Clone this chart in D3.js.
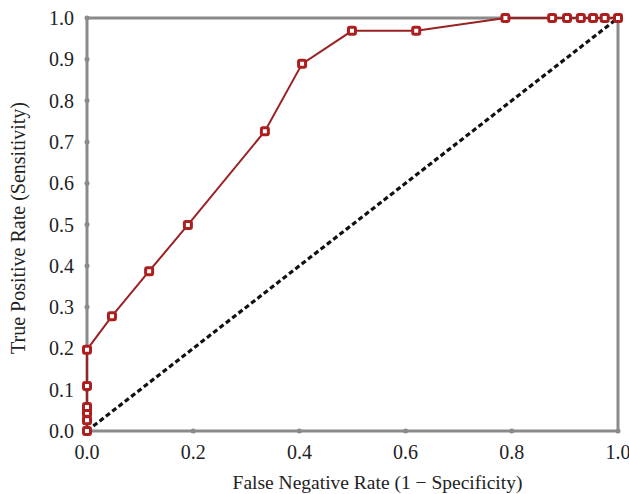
<!DOCTYPE html>
<html>
<head>
<meta charset="utf-8">
<script src="https://cdn.jsdelivr.net/npm/d3@7"></script>
<style>
  body { margin: 0; background: #fff; }
  text { font-family: "Liberation Serif", "DejaVu Serif", serif; fill: #222; }
</style>
</head>
<body>
<svg width="629" height="494"></svg>
<script>
// --- Data ---
const fpr = [0, 0, 0, 0, 0, 0, 0.047, 0.117, 0.19, 0.335, 0.405, 0.499, 0.62, 0.788, 0.876, 0.904, 0.93, 0.953, 0.975, 1.0];
const tpr = [0, 0.026, 0.044, 0.058, 0.109, 0.197, 0.278, 0.387, 0.499, 0.726, 0.889, 0.969, 0.969, 1.0, 1.0, 1.0, 1.0, 1.0, 1.0, 1.0];
const ticks = [0, 0.1, 0.2, 0.3, 0.4, 0.5, 0.6, 0.7, 0.8, 0.9, 1.0];
const xTicks = [0, 0.2, 0.4, 0.6, 0.8, 1.0];

const svg = d3.select('svg');
const x = d3.scaleLinear().domain([0, 1]).range([87, 618]);
const y = d3.scaleLinear().domain([0, 1]).range([431, 18]);
const gray = '#8a8a8a';

// --- Frame ---
svg.append('rect')
  .attr('x', x(0)).attr('y', y(1))
  .attr('width', x(1) - x(0)).attr('height', y(0) - y(1))
  .attr('fill', 'none').attr('stroke', gray).attr('stroke-width', 3);

// --- Tick dots ---
svg.selectAll('.ytd').data(ticks).join('circle')
  .attr('cx', x(0)).attr('cy', d => y(d)).attr('r', 2.5).attr('fill', gray);
svg.selectAll('.xtd').data(xTicks).join('circle')
  .attr('cx', d => x(d)).attr('cy', y(0)).attr('r', 2.5).attr('fill', gray);

// --- Tick labels ---
svg.selectAll('.yt').data(ticks).join('text')
  .attr('x', 74).attr('y', d => y(d) + 7)
  .attr('text-anchor', 'end').attr('font-size', 20)
  .text(d => d.toFixed(1));
svg.selectAll('.xt').data(xTicks).join('text')
  .attr('x', d => x(d)).attr('y', 459)
  .attr('text-anchor', 'middle').attr('font-size', 20)
  .text(d => d.toFixed(1));

// --- Axis titles ---
svg.append('text')
  .attr('x', (x(0) + x(1)) / 2 + 25).attr('y', 489)
  .attr('text-anchor', 'middle').attr('font-size', 19.5)
  .text('False Negative Rate (1 \u2212 Specificity)');
svg.append('text')
  .attr('transform', `translate(25, 228) rotate(-90)`)
  .attr('text-anchor', 'middle').attr('font-size', 20)
  .text('True Positive Rate (Sensitivity)');

// --- Diagonal ---
svg.append('line')
  .attr('x1', x(0)).attr('y1', y(0)).attr('x2', x(1)).attr('y2', y(1))
  .attr('stroke', '#111').attr('stroke-width', 3.2)
  .attr('stroke-dasharray', '5,3');

// --- ROC curve ---
const pts = fpr.map((d, i) => [d, tpr[i]]);
svg.append('path')
  .datum(pts)
  .attr('d', d3.line().x(d => x(d[0])).y(d => y(d[1])))
  .attr('fill', 'none').attr('stroke', '#9a2224').attr('stroke-width', 2);

svg.selectAll('.pt').data(pts).join('rect')
  .attr('x', d => x(d[0]) - 3.5).attr('y', d => y(d[1]) - 3.5)
  .attr('width', 7).attr('height', 7).attr('rx', 1.5)
  .attr('fill', '#fff').attr('stroke', '#ad1f1f').attr('stroke-width', 3);
</script>
</body>
</html>
